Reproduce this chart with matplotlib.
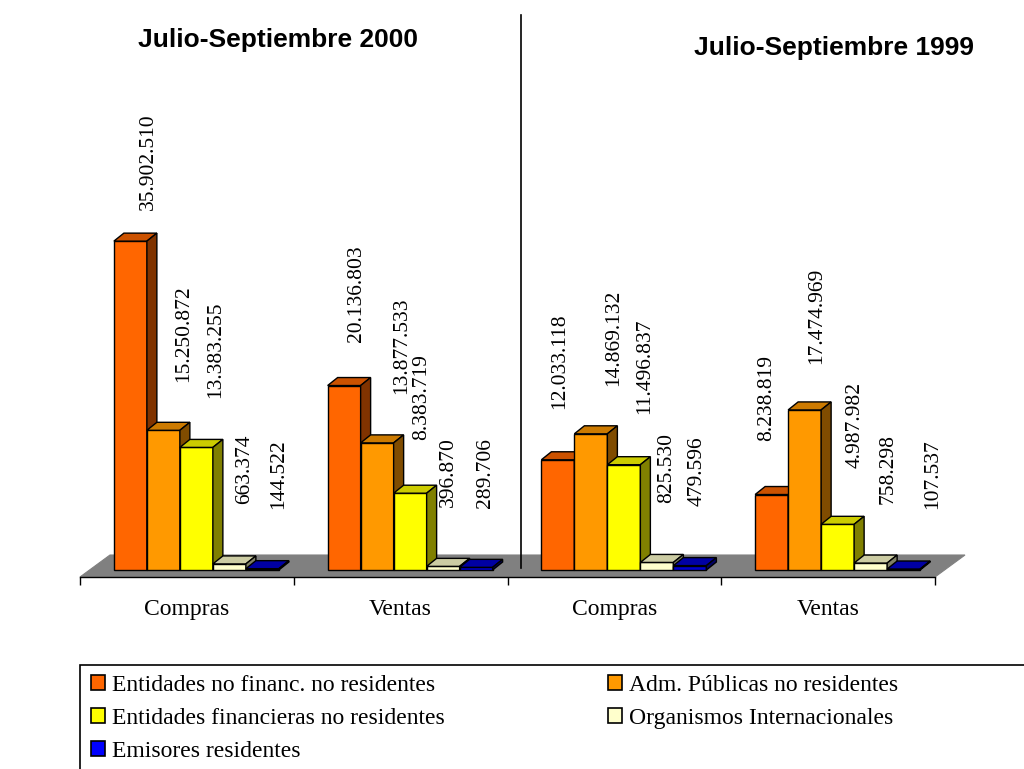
import matplotlib
matplotlib.use("Agg")
import matplotlib.pyplot as plt
from matplotlib.patches import Polygon, Rectangle
from matplotlib.lines import Line2D

# ---------------- data ----------------
categories = ["Compras", "Ventas", "Compras", "Ventas"]
period_titles = ["Julio-Septiembre 2000", "Julio-Septiembre 1999"]
series_names = ["Entidades no financ. no residentes", "Adm. Públicas no residentes",
                "Entidades financieras no residentes", "Organismos Internacionales",
                "Emisores residentes"]
ent_no_financ = [35902510, 20136803, 12033118, 8238819]
adm_publicas = [15250872, 13877533, 14869132, 17474969]
ent_financieras = [13383255, 8383719, 11496837, 4987982]
org_internac = [663374, 396870, 825530, 758298]
emisores = [144522, 289706, 479596, 107537]
series_values = [ent_no_financ, adm_publicas, ent_financieras, org_internac, emisores]

# ---------------- styles ----------------
front_colors = ["#FF6600", "#FF9900", "#FFFF00", "#FFFFCC", "#0000CC"]
top_colors = ["#CC5200", "#CC7A00", "#CCCC00", "#CCCCA3", "#0000A3"]
side_colors = ["#803300", "#804C00", "#808000", "#808066", "#000066"]
legend_colors = ["#FF6600", "#FF9900", "#FFFF00", "#FFFFCC", "#0000FF"]

# horizontal nudge of each value label (pixels, per group, per series)
label_dx_px = [[18, 20, 19, 15, 16],
               [12, 25, 12, 5, 9],
               [2, 23, 21, 10, 7],
               [-5, 12, 17, 17, 29]]

# ---------------- layout (pixels) ----------------
W, H = 1024, 769
fig = plt.figure(figsize=(W / 100, H / 100), dpi=100)
ax_left, ax_right = 80, 935
ax_bottom_px, ax_top_px = 577, 10
px_per_unit_y = 9.16          # pixels per million
px_per_unit_x = (ax_right - ax_left) / 4.0
front_lift_px = 7             # bars stand 7px above the floor front edge
ax = fig.add_axes([ax_left / W, (H - ax_bottom_px) / H,
                   (ax_right - ax_left) / W, (ax_bottom_px - ax_top_px) / H])
ymin = -front_lift_px / px_per_unit_y
ymax = ymin + (ax_bottom_px - ax_top_px) / px_per_unit_y
ax.set_xlim(-0.5, 3.5)
ax.set_ylim(ymin, ymax)


def dxp(px):
    return px / px_per_unit_x


def dyp(px):
    return px / px_per_unit_y


# floor
floor_dx, floor_dy = dxp(30), dyp(22)
floor = Polygon([(-0.5, ymin), (3.5, ymin), (3.5 + floor_dx, ymin + floor_dy),
                 (-0.5 + floor_dx, ymin + floor_dy)], closed=True,
                facecolor="#808080", edgecolor="#808080", lw=0.8, zorder=1, clip_on=False)
ax.add_patch(floor)

# bars
n = len(series_values)
bw = dxp(33)
margin = (1 - n * bw) / 2
shift = dxp(9.5)
bar_dx, bar_dy = dxp(10), dyp(8)
z = 3
for g in range(len(categories)):
    for j in range(n):
        v = series_values[j][g] / 1e6
        x0 = g - 0.5 + margin + shift + j * bw
        x1 = x0 + bw
        ax.bar(x0, v, width=bw, bottom=0, align="edge", color=front_colors[j],
               edgecolor="black", linewidth=1.0, zorder=z)
        top = Polygon([(x0, v), (x1, v), (x1 + bar_dx, v + bar_dy), (x0 + bar_dx, v + bar_dy)],
                      closed=True, facecolor=top_colors[j], edgecolor="black", lw=1.0, zorder=z)
        side = Polygon([(x1, 0), (x1, v), (x1 + bar_dx, v + bar_dy), (x1 + bar_dx, bar_dy)],
                       closed=True, facecolor=side_colors[j], edgecolor="black", lw=1.0, zorder=z)
        ax.add_patch(top)
        ax.add_patch(side)
        z += 1
        # value label
        ly = 6.55 + 0.913 * v
        ax.text((x0 + x1) / 2 + dxp(label_dx_px[g][j]), ly,
                f"{series_values[j][g]:,}".replace(",", "."),
                rotation=90, ha="center", va="bottom", fontsize=15.5,
                family="Liberation Serif", zorder=50, clip_on=False)

# divider line
ax.add_line(Line2D([1.5 + dxp(13)] * 2, [ymax - dyp(5), ymin + dyp(9)],
                   color="black", lw=1.2, zorder=60, clip_on=False))

# axes styling
for s in ["top", "right", "left"]:
    ax.spines[s].set_visible(False)
ax.spines["bottom"].set_linewidth(1.0)
ax.spines["bottom"].set_zorder(2)
ax.set_yticks([])
ax.set_xticks(range(len(categories)))
ax.set_xticklabels(categories, fontsize=17, family="Liberation Serif")
ax.tick_params(axis="x", which="major", length=0, pad=15.5)
ax.set_xticks([-0.5, 0.5, 1.5, 2.5, 3.5], minor=True)
ax.tick_params(axis="x", which="minor", length=6, width=1.0, direction="out", color="black")
ax.patch.set_visible(False)

# titles
fig.text(278 / W, 1 - 40 / H, period_titles[0], ha="center", va="center",
         fontsize=19, fontweight="bold", family="Liberation Sans")
fig.text(834 / W, 1 - 48 / H, period_titles[1], ha="center", va="center",
         fontsize=19, fontweight="bold", family="Liberation Sans")

# legend
proxies = [Rectangle((0, 0), 1, 1, facecolor=legend_colors[i], edgecolor="black", lw=1.2)
           for i in range(n)]
order = [0, 2, 4, 1, 3]
fig.legend([proxies[i] for i in order], [series_names[i] for i in order],
           loc="upper left", bbox_to_anchor=(91 / W, 1 - 675 / H), ncol=2,
           frameon=False, prop={"family": "Liberation Serif", "size": 17},
           handlelength=0.6, handleheight=0.6, handletextpad=0.3,
           labelspacing=0.5, columnspacing=6.9, borderpad=0, borderaxespad=0)
fig.add_artist(Rectangle((80 / W, -0.05), 1.0, (769 - 665) / H + 0.05,
                         transform=fig.transFigure, fill=False, edgecolor="black",
                         lw=1.2, clip_on=False))

fig.savefig("out.png", dpi=100)
